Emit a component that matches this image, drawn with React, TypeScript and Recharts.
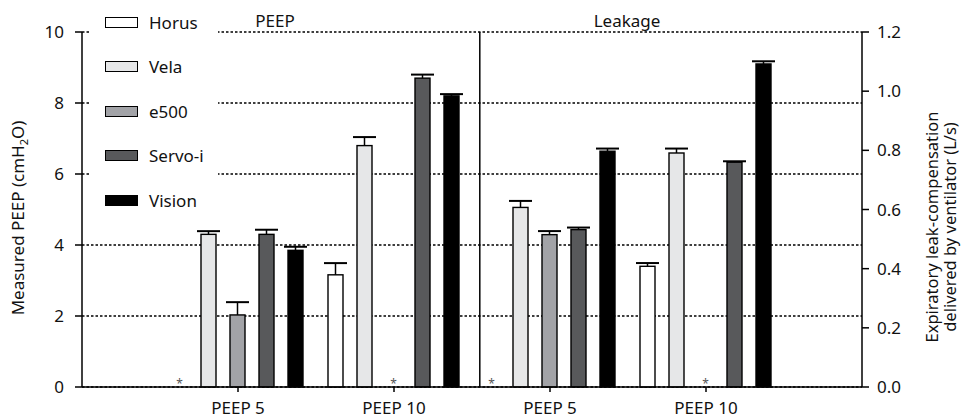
import React from "react";
import {
  Bar,
  CartesianGrid,
  ComposedChart,
  Customized,
  Legend,
  ReferenceLine,
  XAxis,
  YAxis,
} from "recharts";

// devices, in bar order
const devices = ["Horus", "Vela", "e500", "Servo-i", "Vision"];
const deviceFills = ["#ffffff", "#e6e7e8", "#a2a3a7", "#58595b", "#000000"];

// x positions of the four groups and their labels
const groupX = [1, 2, 3, 4];
const groupLabels = ["PEEP 5", "PEEP 10", "PEEP 5", "PEEP 10"];

// measured PEEP (cmH2O), one value per device; null = not measured (*)
const peep5 = [null, 4.3, 2.03, 4.3, 3.85];
const peep5Err = [null, 0.09, 0.36, 0.13, 0.1];
const peep10 = [3.16, 6.8, null, 8.7, 8.2];
const peep10Err = [0.33, 0.24, null, 0.1, 0.05];

// leak compensation (L/s)
const leak5 = [null, 0.607, 0.515, 0.532, 0.797];
const leak5Err = [null, 0.022, 0.012, 0.007, 0.009];
const leak10 = [0.408, 0.791, null, 0.76, 1.092];
const leak10Err = [0.011, 0.015, null, 0.003, 0.009];

const leftTicks = [0, 2, 4, 6, 8, 10];
const rightTicks = [0, 0.2, 0.4, 0.6, 0.8, 1.0, 1.2];

const FONT = "'Noto Sans', sans-serif";

type Row = Record<string, number | boolean | null>;

function buildRow(x: number, prefix: string, vals: (number | null)[], errs: (number | null)[]) {
  const row: Row = { x };
  vals.forEach((v, i) => {
    row[`${prefix}${i}`] = v == null ? 0 : v;
    row[`${prefix}${i}err`] = errs[i];
    row[`${prefix}${i}miss`] = v == null;
  });
  return row;
}

const data = [
  buildRow(groupX[0], "p", peep5, peep5Err),
  buildRow(groupX[1], "p", peep10, peep10Err),
  buildRow(groupX[2], "l", leak5, leak5Err),
  buildRow(groupX[3], "l", leak10, leak10Err),
];

const makeShape = (key: string, fill: string) => (props: any) => {
  const { x, y, width, height, payload } = props;
  if (!payload || x == null || !isFinite(x)) return <g />;
  const cx = x + width / 2;
  if (payload[`${key}miss`] === true) {
    return (
      <text x={cx} y={y + 1} textAnchor="middle" fontSize={12} fill="#555" fontFamily={FONT}>
        *
      </text>
    );
  }
  const v = payload[key];
  const e = payload[`${key}err`];
  if (typeof v !== "number" || !(height > 0)) return <g />;
  const top = y - (e || 0) * (height / v);
  return (
    <g>
      <rect x={x} y={y} width={width} height={height} fill={fill} stroke="#000" strokeWidth={1.4} />
      <line x1={cx} x2={cx} y1={y} y2={top} stroke="#000" strokeWidth={1.5} />
      <line x1={cx - 11.5} x2={cx + 11.5} y1={top} y2={top} stroke="#000" strokeWidth={2} />
    </g>
  );
};

const LegendBox = () => (
  <div style={{ background: "#fff", width: 128, height: 212, fontFamily: FONT, fontSize: 17 }}>
    {devices.map((d, i) => (
      <div key={d} style={{ display: "flex", alignItems: "center", height: 44.5 }}>
        <span
          style={{
            display: "inline-block",
            width: 31,
            height: 9,
            marginLeft: 15,
            background: deviceFills[i],
            border: "1.3px solid #000",
          }}
        />
        <span style={{ marginLeft: 11, color: "#111" }}>{d}</span>
      </div>
    ))}
  </div>
);

const Titles = () => (
  <g fontFamily={FONT} fontSize={17} fill="#111">
    <text x={275} y={27} textAnchor="middle">
      PEEP
    </text>
    <text x={627} y={27} textAnchor="middle">
      Leakage
    </text>
  </g>
);

const LeftLabel = () => (
  <text
    transform="translate(24,218) rotate(-90)"
    textAnchor="middle"
    fontFamily={FONT}
    fontSize={17}
    fill="#111"
  >
    <tspan>Measured PEEP (cmH</tspan>
    <tspan fontSize={11} dy={4}>
      2
    </tspan>
    <tspan dy={-4}>O)</tspan>
  </text>
);

const RightLabel = () => (
  <g fontFamily={FONT} fontSize={16.5} fill="#111">
    <text transform="translate(938,227) rotate(-90)" textAnchor="middle">
      Expiratory leak-compensation
    </text>
    <text transform="translate(956,227) rotate(-90)" textAnchor="middle">
      delivered by ventilator (L/s)
    </text>
  </g>
);

const axisStroke = { stroke: "#000", strokeWidth: 1.5 };

export default function App() {
  return (
    <div style={{ position: "absolute", left: 0, top: 0, width: 966, height: 419, background: "#fff" }}>
      <ComposedChart
        width={966}
        height={419}
        data={data}
        margin={{ top: 32, right: 0, bottom: 0, left: 0 }}
        barGap={14}
      >
        <CartesianGrid
          yAxisId="L"
          xAxisId="L"
          vertical={false}
          stroke="#000"
          strokeWidth={1.3}
          strokeDasharray="2.5 2"
        />
        <XAxis
          xAxisId="L"
          dataKey="x"
          type="number"
          domain={[0, 5]}
          ticks={groupX}
          tickFormatter={(v: number) => groupLabels[v - 1] ?? ""}
          height={32}
          tickSize={5}
          tickMargin={10}
          axisLine={axisStroke}
          tickLine={axisStroke}
          tick={{ fontSize: 17, fill: "#111", fontFamily: FONT }}
        />
        <XAxis xAxisId="R" dataKey="x" type="number" domain={[0, 5]} ticks={groupX} hide />
        <YAxis
          yAxisId="L"
          domain={[0, 10]}
          ticks={leftTicks}
          width={82}
          tickSize={7}
          tickMargin={11}
          axisLine={axisStroke}
          tickLine={axisStroke}
          tick={{ fontSize: 17, fill: "#111", fontFamily: FONT }}
        />
        <YAxis
          yAxisId="R"
          orientation="right"
          domain={[0, 1.2]}
          ticks={rightTicks}
          tickFormatter={(v: number) => v.toFixed(1)}
          width={104}
          tickSize={7}
          tickMargin={8}
          axisLine={axisStroke}
          tickLine={axisStroke}
          tick={{ fontSize: 17, fill: "#111", fontFamily: FONT }}
        />
        <ReferenceLine xAxisId="L" yAxisId="L" x={2.55} stroke="#000" strokeWidth={1.5} />
        {devices.map((d, i) => (
          <Bar
            key={`p${i}`}
            name={d}
            xAxisId="L"
            yAxisId="L"
            dataKey={`p${i}`}
            barSize={15}
            fill={deviceFills[i]}
            shape={makeShape(`p${i}`, deviceFills[i])}
            isAnimationActive={false}
          />
        ))}
        {devices.map((d, i) => (
          <Bar
            key={`l${i}`}
            name={d}
            xAxisId="R"
            yAxisId="R"
            dataKey={`l${i}`}
            barSize={15}
            fill={deviceFills[i]}
            shape={makeShape(`l${i}`, deviceFills[i])}
            isAnimationActive={false}
          />
        ))}
        <Legend
          layout="vertical"
          align="center"
          verticalAlign="middle"
          content={() => <LegendBox />}
          wrapperStyle={{ position: "absolute", left: 90, top: 0, width: 128 }}
        />
        <Customized component={Titles} />
        <Customized component={LeftLabel} />
        <Customized component={RightLabel} />
      </ComposedChart>
    </div>
  );
}
